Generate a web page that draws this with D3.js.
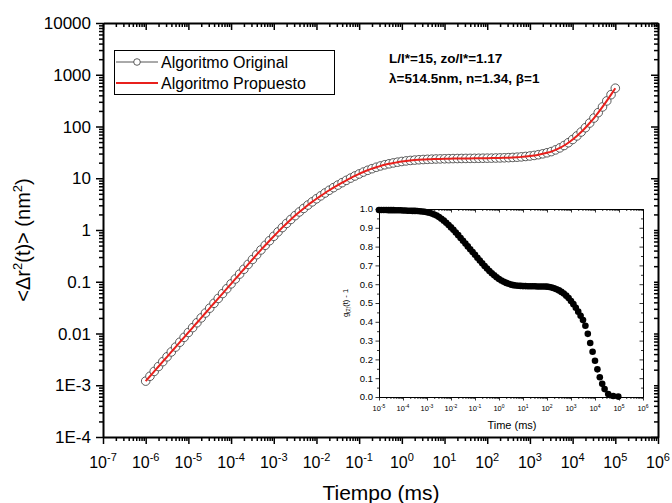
<!DOCTYPE html>
<html>
<head>
<meta charset="utf-8">
<script src="https://cdn.jsdelivr.net/npm/d3@7"></script>
<style>
body { margin: 0; background: #fff; }
text { font-family: Arial, "Liberation Sans", sans-serif; fill: #000; }
</style>
</head>
<body>
<script>
// main curve: log10(time, ms) and log10(<dr^2>, nm^2)
var timeExp = [-6.0,-5.9,-5.8,-5.7,-5.6,-5.5,-5.4,-5.3,-5.2,-5.1,-5.0,-4.9,-4.8,-4.7,-4.6,-4.5,-4.4,-4.3,-4.2,-4.1,
  -4.0,-3.9,-3.8,-3.7,-3.6,-3.5,-3.4,-3.3,-3.2,-3.1,-3.0,-2.9,-2.8,-2.7,-2.6,-2.5,-2.4,-2.3,-2.2,-2.1,
  -2.0,-1.9,-1.8,-1.7,-1.6,-1.5,-1.4,-1.3,-1.2,-1.1,-1.0,-0.9,-0.8,-0.7,-0.6,-0.5,-0.4,-0.3,-0.2,-0.1,
  0.0,0.1,0.2,0.3,0.4,0.5,0.6,0.7,0.8,0.9,1.0,1.1,1.2,1.3,1.4,1.5,1.6,1.7,1.8,1.9,
  2.0,2.1,2.2,2.3,2.4,2.5,2.6,2.7,2.8,2.9,3.0,3.1,3.2,3.3,3.4,3.5,3.6,3.7,3.8,3.9,
  4.0,4.1,4.2,4.3,4.4,4.5,4.6,4.7,4.8,4.9,5.0];
var msdExp = [-2.920,-2.826,-2.732,-2.638,-2.544,-2.450,-2.356,-2.262,-2.168,-2.074,
  -1.980,-1.886,-1.792,-1.698,-1.604,-1.510,-1.416,-1.322,-1.228,-1.134,
  -1.040,-0.946,-0.852,-0.758,-0.664,-0.570,-0.477,-0.385,-0.295,-0.207,
  -0.121,-0.036,0.047,0.127,0.204,0.278,0.349,0.417,0.482,0.544,
  0.603,0.660,0.715,0.768,0.819,0.868,0.915,0.960,1.003,1.044,
  1.083,1.120,1.154,1.185,1.213,1.238,1.260,1.279,1.296,1.311,
  1.324,1.335,1.344,1.351,1.357,1.362,1.366,1.369,1.372,1.374,
  1.376,1.378,1.380,1.381,1.382,1.383,1.384,1.385,1.386,1.387,
  1.388,1.389,1.391,1.393,1.395,1.398,1.402,1.407,1.413,1.421,
  1.430,1.441,1.455,1.472,1.492,1.515,1.548,1.587,1.633,1.687,
  1.749,1.818,1.894,1.977,2.067,2.164,2.268,2.378,2.494,2.615,2.740];

// inset: log10(time, ms) and g2(t)-1
var insetTimeExp = [-5.0,-4.9,-4.8,-4.7,-4.6,-4.5,-4.4,-4.3,-4.2,-4.1,-4.0,-3.9,-3.8,-3.7,-3.6,-3.5,
  -3.4,-3.3,-3.2,-3.1,-3.0,-2.9,-2.8,-2.7,-2.6,-2.5,-2.4,-2.3,-2.2,-2.1,
  -2.0,-1.9,-1.8,-1.7,-1.6,-1.5,-1.4,-1.3,-1.2,-1.1,-1.0,-0.9,-0.8,-0.7,-0.6,-0.5,-0.4,-0.3,-0.2,-0.1,
  0.0,0.1,0.2,0.3,0.4,0.5,0.6,0.7,0.8,0.9,1.0,1.1,1.2,1.3,1.4,1.5,1.6,1.7,1.8,1.9,
  2.0,2.1,2.2,2.3,2.4,2.5,2.6,2.7,2.8,2.9,3.0,3.1,3.2,3.3,3.4,3.5,3.6,3.7,3.8,3.9,
  4.0,4.1,4.2,4.3,4.4,4.55,4.76,4.97];
var insetG2 = [0.995,0.995,0.995,0.995,0.994,0.994,0.994,0.993,0.993,0.993,0.992,0.992,0.991,0.991,0.990,0.990,
  0.989,0.988,0.987,0.985,0.983,0.980,0.976,0.971,0.965,0.957,0.948,0.938,0.927,0.915,
  0.902,0.889,0.875,0.861,0.846,0.831,0.816,0.801,0.786,0.771,0.756,0.741,0.726,0.711,0.697,0.683,0.670,0.658,0.647,0.637,
  0.628,0.620,0.613,0.607,0.602,0.598,0.595,0.593,0.592,0.591,0.590,0.590,0.589,0.589,0.589,0.589,0.588,0.588,0.588,0.588,
  0.587,0.585,0.582,0.578,0.573,0.567,0.559,0.550,0.539,0.526,0.511,0.494,0.475,0.454,0.432,0.409,0.379,0.336,0.287,0.241,
  0.193,0.147,0.105,0.070,0.042,0.016,0.005,0.002];

var xTickExp = [-7,-6,-5,-4,-3,-2,-1,0,1,2,3,4,5,6];
var yTickLabels = ["1E-4","1E-3","0.01","0.1","1","10","100","1000","10000"];
var insetXTickExp = [-5,-4,-3,-2,-1,0,1,2,3,4,5,6];
var insetYTicks = [0,0.1,0.2,0.3,0.4,0.5,0.6,0.7,0.8,0.9,1.0];
var seriesNames = ["Algoritmo Original", "Algoritmo Propuesto"];
var noteLines = ["L/l*=15, zo/l*=1.17", "\u03bb=514.5nm, n=1.34, \u03b2=1"];

var width = 672, height = 503;
var margin = {top: 23, right: 14, bottom: 66, left: 103};

var svg = d3.select("body").append("svg")
    .attr("width", width)
    .attr("height", height);

var x = d3.scaleLog().domain([1e-7, 1e6]).range([margin.left, width - margin.right]);
var y = d3.scaleLog().domain([1e-4, 1e4]).range([height - margin.bottom, margin.top]);

function minorsOf(lo, hi) {
    var out = [];
    for (var e = lo; e < hi; e++) {
        for (var m = 2; m < 10; m++) out.push(m * Math.pow(10, e));
    }
    return out;
}

var xMajor = xTickExp.map(function(e) { return Math.pow(10, e); });
var yMajor = d3.range(-4, 5).map(function(e) { return Math.pow(10, e); });

function drawAxis(g, axisFn, scale, majors, minors, big, small) {
    g.call(axisFn(scale).tickValues(majors).tickFormat("").tickSize(big).tickSizeOuter(0));
    g.append("g").call(axisFn(scale).tickValues(minors).tickFormat("").tickSize(small).tickSizeOuter(0))
        .select(".domain").remove();
}

// main axes
var axBottom = svg.append("g").attr("transform", "translate(0," + y.range()[0] + ")");
drawAxis(axBottom, d3.axisBottom, x, xMajor, minorsOf(-7, 6), 7, 4);
var axTop = svg.append("g").attr("transform", "translate(0," + y.range()[1] + ")");
drawAxis(axTop, d3.axisBottom, x, xMajor, minorsOf(-7, 6), 7, 4);
var axLeft = svg.append("g").attr("transform", "translate(" + x.range()[0] + ",0)");
drawAxis(axLeft, d3.axisLeft, y, yMajor, minorsOf(-4, 4), 7, 4);
var axRight = svg.append("g").attr("transform", "translate(" + x.range()[1] + ",0)");
drawAxis(axRight, d3.axisLeft, y, yMajor, minorsOf(-4, 4), 7, 4);
svg.selectAll(".domain").attr("stroke-width", 2);
svg.selectAll(".tick line").attr("stroke-width", 1.5);

// x tick labels with superscripts
var xl = svg.append("g").selectAll("text").data(xTickExp).enter().append("text")
    .attr("x", function(d) { return x(Math.pow(10, d)); })
    .attr("y", 468)
    .attr("text-anchor", "middle")
    .style("font-size", "16px");
xl.append("tspan").text("10");
xl.append("tspan").attr("dy", "-7").style("font-size", "11px").text(function(d) { return d; });

svg.append("g").selectAll("text").data(yTickLabels).enter().append("text")
    .attr("x", 91)
    .attr("y", function(d, i) { return y(yMajor[i]); })
    .attr("dy", "0.36em")
    .attr("text-anchor", "end")
    .style("font-size", "17px")
    .text(function(d) { return d; });

// axis titles
svg.append("text")
    .attr("x", 381).attr("y", 500)
    .attr("text-anchor", "middle")
    .style("font-size", "21px")
    .text("Tiempo (ms)");

var yt = svg.append("text")
    .attr("transform", "translate(30,240) rotate(-90)")
    .attr("text-anchor", "middle")
    .style("font-size", "20px");
yt.append("tspan").text("<\u0394r");
yt.append("tspan").attr("dy", "-8").style("font-size", "13px").text("2");
yt.append("tspan").attr("dy", "8").text("(t)> (nm");
yt.append("tspan").attr("dy", "-8").style("font-size", "13px").text("2");
yt.append("tspan").attr("dy", "8").text(")");

// main data
var pts = timeExp.map(function(t, i) { return [Math.pow(10, t), Math.pow(10, msdExp[i])]; });

svg.append("g").selectAll("circle").data(pts).enter().append("circle")
    .attr("cx", function(d) { return x(d[0]); })
    .attr("cy", function(d) { return y(d[1]); })
    .attr("r", 4.3)
    .attr("fill", "#fff")
    .attr("stroke", "#333")
    .attr("stroke-width", 0.8);

var line = d3.line()
    .x(function(d) { return x(d[0]); })
    .y(function(d) { return y(d[1]); })
    .curve(d3.curveMonotoneX);

svg.append("path")
    .datum(pts)
    .attr("d", line)
    .attr("fill", "none")
    .attr("stroke", "#e8201c")
    .attr("stroke-width", 2);

// legend
var leg = svg.append("g");
leg.append("rect").attr("x", 114.5).attr("y", 50.5).attr("width", 220).attr("height", 44)
    .attr("fill", "#fff").attr("stroke", "#000").attr("stroke-width", 1);
leg.append("line").attr("x1", 116).attr("x2", 158).attr("y1", 62).attr("y2", 62)
    .attr("stroke", "#555").attr("stroke-width", 1);
leg.append("circle").attr("cx", 137).attr("cy", 62).attr("r", 3.3)
    .attr("fill", "#fff").attr("stroke", "#333").attr("stroke-width", 0.8);
leg.append("line").attr("x1", 116).attr("x2", 158).attr("y1", 83).attr("y2", 83)
    .attr("stroke", "#e8201c").attr("stroke-width", 2);
leg.selectAll("text.lbl").data(seriesNames).enter().append("text")
    .attr("x", 161)
    .attr("y", function(d, i) { return 62 + i * 21; })
    .attr("dy", "0.36em")
    .style("font-size", "16px")
    .text(function(d) { return d; });

svg.append("g").selectAll("text").data(noteLines).enter().append("text")
    .attr("x", 389)
    .attr("y", function(d, i) { return 58 + i * 20; })
    .attr("dy", "0.36em")
    .style("font-size", "13.5px")
    .style("font-weight", "bold")
    .text(function(d) { return d; });

// inset
var inset = svg.append("g");
inset.append("rect").attr("x", 334).attr("y", 196).attr("width", 320).attr("height", 238).attr("fill", "#fff");

var ix = d3.scaleLog().domain([1e-5, 1e6]).range([379, 643]);
var iy = d3.scaleLinear().domain([0, 1]).range([397, 209]);
var ixMajor = insetXTickExp.map(function(e) { return Math.pow(10, e); });
var iyMinor = d3.range(0.05, 1, 0.1);

var ib = inset.append("g").attr("transform", "translate(0,397)");
drawAxis(ib, d3.axisBottom, ix, ixMajor, minorsOf(-5, 6), 3.5, 2);
var itp = inset.append("g").attr("transform", "translate(0,209)");
drawAxis(itp, d3.axisBottom, ix, ixMajor, minorsOf(-5, 6), 3.5, 2);
var il = inset.append("g").attr("transform", "translate(379,0)");
drawAxis(il, d3.axisLeft, iy, insetYTicks, iyMinor, 3.5, 2);
var ir = inset.append("g").attr("transform", "translate(643,0)");
drawAxis(ir, d3.axisLeft, iy, insetYTicks, iyMinor, 3.5, 2);
inset.selectAll(".domain").attr("stroke-width", 1);
inset.selectAll(".tick line").attr("stroke-width", 0.8);

var ixl = inset.append("g").selectAll("text").data(insetXTickExp).enter().append("text")
    .attr("x", function(d) { return ix(Math.pow(10, d)); })
    .attr("y", 411)
    .attr("text-anchor", "middle")
    .style("font-size", "7.5px");
ixl.append("tspan").text("10");
ixl.append("tspan").attr("dy", "-3").style("font-size", "5px").text(function(d) { return d; });

inset.append("g").selectAll("text").data(insetYTicks).enter().append("text")
    .attr("x", 373)
    .attr("y", function(d) { return iy(d); })
    .attr("dy", "0.36em")
    .attr("text-anchor", "end")
    .style("font-size", "9.5px")
    .text(function(d) { return d.toFixed(1); });

inset.append("text")
    .attr("x", 512).attr("y", 429)
    .attr("text-anchor", "middle")
    .style("font-size", "11px")
    .text("Time (ms)");

var iyt = inset.append("text")
    .attr("transform", "translate(348,303) rotate(-90)")
    .attr("text-anchor", "middle")
    .style("font-size", "7.5px");
iyt.append("tspan").text("g");
iyt.append("tspan").attr("dy", "2").style("font-size", "5px").text("(2)");
iyt.append("tspan").attr("dy", "-2").text("(t) - 1");

inset.append("g").selectAll("circle").data(insetTimeExp).enter().append("circle")
    .attr("cx", function(d) { return ix(Math.pow(10, d)); })
    .attr("cy", function(d, i) { return iy(insetG2[i]); })
    .attr("r", 3.3)
    .attr("fill", "#000");
</script>
</body>
</html>
